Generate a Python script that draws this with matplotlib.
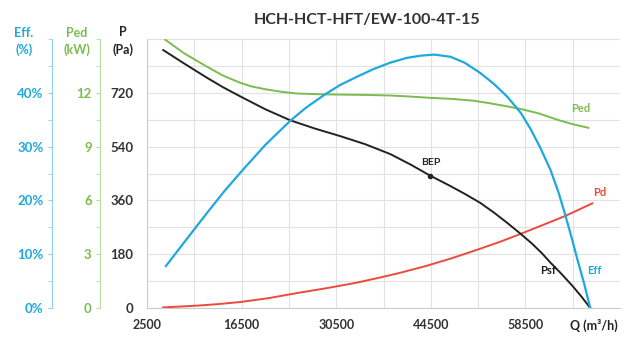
import matplotlib
matplotlib.use("Agg")
import matplotlib.pyplot as plt
from matplotlib.ticker import MultipleLocator, FuncFormatter

plt.rcParams['font.family'] = ['Lato', 'DejaVu Sans']

# values
q_psf = [4900, 8000, 11400, 13800, 16300, 20000, 23700, 27400, 31100, 34800, 38500, 41500,
         44400, 47400, 49600, 51800, 53800, 55800, 57800, 59500, 61000, 62200, 63800, 65500,
         66800, 68100]
psf = [863, 818, 770, 738, 708, 665, 628, 600, 575, 548, 515, 480,
       443, 408, 381, 352, 320, 285, 248, 215, 182, 152, 115, 73,
       38, 0]

q_pd = [4900, 7500, 10000, 13000, 16300, 20500, 24700, 29000, 33600, 37000, 40000, 43700,
        47400, 51000, 54800, 57800, 61000, 64400, 68400]
pd_ = [2, 5, 8, 13, 20, 33, 50, 66, 85, 102, 118, 140,
       165, 192, 222, 248, 277, 308, 350]

q_eff = [5300, 8000, 11400, 14000, 16700, 20000, 23700, 26000, 28600, 31000, 33600, 36000,
         38500, 41000, 43000, 45000, 47400, 49500, 51800, 53800, 55800, 57800, 59300, 60700,
         62200, 63400, 64400, 65400, 66200, 67200, 68100]
eff = [7.8, 12.2, 17.7, 21.8, 25.7, 30.3, 34.8, 37.2, 39.5, 41.4, 43.0, 44.4,
       45.6, 46.5, 46.9, 47.1, 46.7, 45.6, 43.7, 41.7, 39.3, 36.3, 33.2, 29.8,
       25.7, 21.5, 17.3, 12.8, 9.0, 4.5, 0]

q_ped = [5200, 8000, 11400, 13800, 16300, 18000, 20000, 22500, 24700, 28000, 31000, 35000,
         38500, 41500, 44400, 47600, 50800, 53000, 55000, 57800, 60500, 63200, 65500, 67800]
ped = [14.96, 14.2, 13.45, 12.95, 12.56, 12.35, 12.2, 12.05, 11.96, 11.92, 11.9, 11.88,
       11.85, 11.79, 11.72, 11.66, 11.56, 11.43, 11.3, 11.1, 10.85, 10.5, 10.25, 10.05]

bep_q, bep_p = 44400, 443

x_ticks = [2500, 16500, 30500, 44500, 58500]
p_ticks = [0, 180, 360, 540, 720]
ped_ticks = [0, 3, 6, 9, 12]
eff_ticks = [0, 10, 20, 30, 40]

BLUE = '#1fa8e0'
GREEN = '#7cbb4f'
RED = '#ec4a3c'
BLACK = '#222222'
W, H = 624, 341

fig = plt.figure(figsize=(6.24, 3.41), dpi=100)
ax = fig.add_axes([147 / W, 1 - 308 / H, 473 / W, 269 / H])

ax.set_xlim(2500, 72500)
ax.set_ylim(0, 900)
ax.set_xticks(x_ticks)
ax.set_xticks([9500, 23500, 37500, 51500, 65500], minor=True)
ax.set_yticks(p_ticks)
ax.yaxis.set_minor_locator(MultipleLocator(90))
ax.grid(True, which='both', color='#e2e2e2', lw=0.8)
ax.set_axisbelow(True)
for s in ['top', 'right']:
    ax.spines[s].set_visible(False)
ax.spines['left'].set_color('#cccccc')
ax.spines['bottom'].set_color('#cccccc')
ax.tick_params(axis='x', which='both', length=0, pad=8, labelsize=9, labelcolor='#333333')
ax.tick_params(axis='y', which='both', length=0, pad=10, labelsize=9.5, labelcolor='#333333')
for lab in ax.get_xticklabels() + ax.get_yticklabels():
    lab.set_fontweight('bold')

ax.plot(q_pd, pd_, color=RED, lw=1.4, zorder=3)
ax.plot(q_psf, psf, color=BLACK, lw=1.4, zorder=4)
ax.plot([bep_q], [bep_p], marker='o', ms=3, color=BLACK, zorder=5)

# power axis
ax_ped = ax.twinx()
ax_ped.set_ylim(0, 15)
ax_ped.set_yticks(ped_ticks)
ax_ped.yaxis.set_minor_locator(MultipleLocator(1.5))
ax_ped.yaxis.set_ticks_position('left')
ax_ped.spines['left'].set_position(('axes', -47 / 473))
ax_ped.spines['left'].set_color('#b8dca3')
for s in ['top', 'right', 'bottom']:
    ax_ped.spines[s].set_visible(False)
ax_ped.tick_params(axis='y', which='both', colors='#b8dca3', length=3, pad=3,
                   labelsize=9.5, labelcolor=GREEN)
ax_ped.plot(q_ped, ped, color=GREEN, lw=1.4, zorder=3)

# efficiency axis
ax_eff = ax.twinx()
ax_eff.set_ylim(0, 50)
ax_eff.set_yticks(eff_ticks)
ax_eff.yaxis.set_minor_locator(MultipleLocator(5))
ax_eff.yaxis.set_major_formatter(FuncFormatter(lambda v, p: '%d%%' % v))
ax_eff.yaxis.set_ticks_position('left')
ax_eff.spines['left'].set_position(('axes', -95 / 473))
ax_eff.spines['left'].set_color('#8fd3f0')
for s in ['top', 'right', 'bottom']:
    ax_eff.spines[s].set_visible(False)
ax_eff.tick_params(axis='y', which='both', colors='#8fd3f0', length=3, pad=3,
                   labelsize=9.5, labelcolor=BLUE)
ax_eff.plot(q_eff, eff, color=BLUE, lw=1.6, zorder=3)

for a in (ax_ped, ax_eff):
    for lab in a.get_yticklabels():
        lab.set_fontweight('bold')

# curve labels (main axis coordinates)
ax.text(66700, 667, 'Ped', color=GREEN, fontsize=8, fontweight='bold', ha='center', va='center')
ax.text(69500, 387, 'Pd', color=RED, fontsize=8, fontweight='bold', ha='center', va='center')
ax.text(68700, 127, 'Eff', color=BLUE, fontsize=8, fontweight='bold', ha='center', va='center')
ax.text(61800, 127, 'Psf', color=BLACK, fontsize=8, fontweight='bold', ha='center', va='center')
ax.text(44500, 487, 'BEP', color=BLACK, fontsize=7.5, fontweight='bold', ha='center', va='center')

# axis titles
def fx(px):
    return px / W

def fy(py):
    return 1 - py / H

fig.text(fx(24), fy(33), 'Eff.', color=BLUE, fontsize=9, fontweight='bold', ha='center', va='center')
fig.text(fx(24), fy(50), '(%)', color=BLUE, fontsize=9, fontweight='bold', ha='center', va='center')
fig.text(fx(77), fy(33), 'Ped', color=GREEN, fontsize=9, fontweight='bold', ha='center', va='center')
fig.text(fx(77), fy(50), '(kW)', color=GREEN, fontsize=9, fontweight='bold', ha='center', va='center')
fig.text(fx(123), fy(32), 'P', color=BLACK, fontsize=9, fontweight='bold', ha='center', va='center')
fig.text(fx(123), fy(50), '(Pa)', color=BLACK, fontsize=9, fontweight='bold', ha='center', va='center')
fig.text(fx(594), fy(325), 'Q (m³/h)', color=BLACK, fontsize=9, fontweight='bold', ha='center', va='center')

fig.text(fx(367), fy(20), 'HCH-HCT-HFT/EW-100-4T-15', color='#333333', fontsize=11.5,
         fontweight='bold', ha='center', va='center')

fig.savefig('out.png', dpi=100)
